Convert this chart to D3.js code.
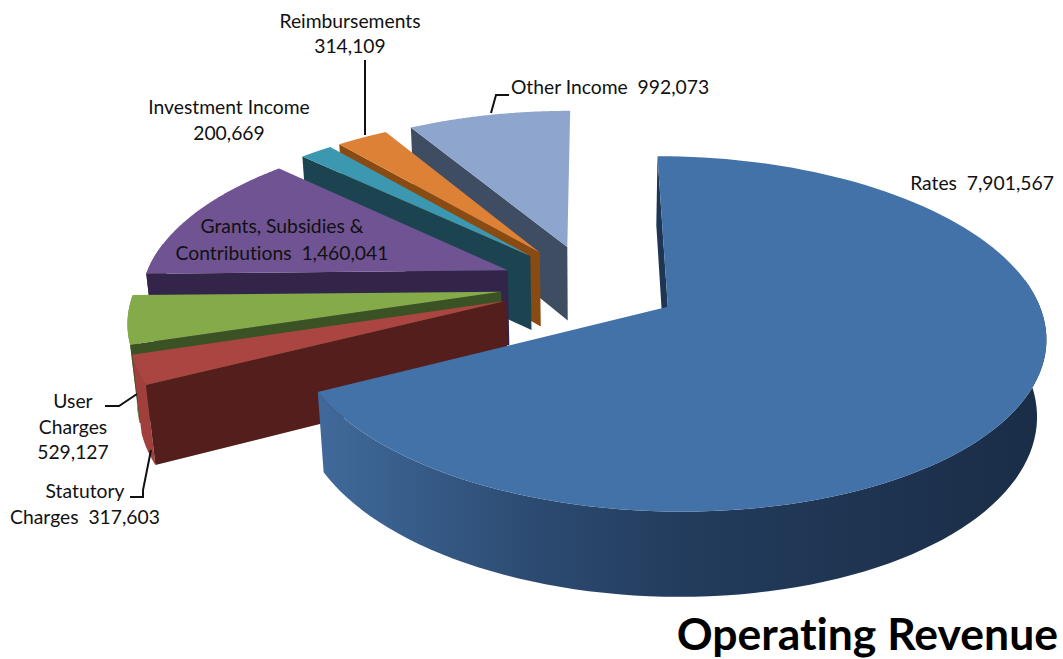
<!DOCTYPE html>
<html>
<head>
<meta charset="utf-8">
<title>Operating Revenue</title>
<script src="https://cdn.jsdelivr.net/npm/d3@7"></script>
<style>
  html, body { margin: 0; padding: 0; background: #fff; }
  svg { display: block; }
  text { font-family: Lato, "Open Sans", sans-serif; fill: #111; font-variant-ligatures: none; }
</style>
</head>
<body>
<svg id="chart" width="1063" height="659"></svg>
<script>
// Operating revenue by source
const categories = ["Rates", "Statutory Charges", "User Charges", "Grants, Subsidies & Contributions", "Investment Income", "Reimbursements", "Other Income"];
const revenue = [7901567, 317603, 529127, 1460041, 200669, 314109, 992073];
const topColours = ["#4372a8", "#aa4541", "#85aa4a", "#6f5392", "#3b98b0", "#dd8136", "#8ea5cd"];
const wallColours = ["#1e3554", "#541e1c", "#3a5224", "#33254a", "#1c4450", "#8a4b12", "#3f4d62"];
const rimColours = ["url(#ratesRim)", "#a13f3c", "#6e8f3d", "#33254a", "#2a7488", "#b56a2a", "#76899f"];

// Callout text, one entry per line
const labelLines = [
  [{ t: "Rates  7,901,567", x: 982, y: 190 }],
  [{ t: "Statutory", x: 85, y: 498 }, { t: "Charges  317,603", x: 85, y: 524 }],
  [{ t: "User", x: 73, y: 408 }, { t: "Charges", x: 73, y: 434 }, { t: "529,127", x: 73, y: 459 }],
  [{ t: "Grants, Subsidies &", x: 282, y: 233 }, { t: "Contributions  1,460,041", x: 282, y: 260 }],
  [{ t: "Investment Income", x: 229, y: 114 }, { t: "200,669", x: 229, y: 140 }],
  [{ t: "Reimbursements", x: 350, y: 28 }, { t: "314,109", x: 350, y: 53 }],
  [{ t: "Other Income  992,073", x: 610, y: 94 }]
];
// Leader lines running from callouts to their slices
const leaders = [
  [[130, 497], [143, 497], [143, 490], [151, 450]],
  [[105, 406], [119, 406], [137, 394]],
  [[365, 60], [365, 135]],
  [[509, 95], [496, 95], [491, 113]]
];

const svg = d3.select("#chart");

// Perspective projection of the pie's ground plane.
// u runs right, v towards the viewer, w down through the thickness of the disc.
const view = { cx: 590, cy: 285, R: 365, Ry: 167, H: 77, k: 0.15, m: 0.02, explode: 0.245 };
function project(u, v, w) {
  const s = 1 / (1 - view.k * v + view.m * w);
  return [view.cx + view.R * u * s, view.cy + view.Ry * v * s + view.H * w * s];
}

const pie = d3.pie().sort(null).value(d => d);
const arcs = pie(revenue);

// A polar location on a slice: the apex is pushed out along the slice's bisector.
function apexOf(a) {
  const mid = (a.startAngle + a.endAngle) / 2;
  return [view.explode * Math.sin(mid), -view.explode * Math.cos(mid)];
}
function rimPoint(a, t, w) {
  const o = apexOf(a);
  return project(o[0] + Math.sin(t), o[1] - Math.cos(t), w);
}
const line = d3.line();

function rimAngles(a) {
  return d3.range(0, 1.0001, 1 / 120).map(f => a.startAngle + f * (a.endAngle - a.startAngle));
}
// The rim only shows on the half of the disc that faces the viewer.
const facesViewer = t => Math.cos(t) < 0.17;

const defs = svg.append("defs");
const grad = defs.append("linearGradient").attr("id", "ratesRim")
  .attr("gradientUnits", "userSpaceOnUse")
  .attr("x1", 322).attr("x2", 1046).attr("y1", 0).attr("y2", 0);
[[0, "#40699a"], [0.12, "#375d8a"], [0.3, "#2c4a70"], [0.5, "#233c5d"], [0.75, "#1e3451"], [1, "#1a2d47"]]
  .forEach(s => grad.append("stop").attr("offset", s[0]).attr("stop-color", s[1]));

// Paint back to front: the far slices first, the large front slice last.
const paintOrder = [6, 5, 4, 3, 2, 1, 0];
const slices = svg.append("g").selectAll("g")
  .data(paintOrder.map(i => ({ i, a: arcs[i] })))
  .join("g");

slices.each(function (d) {
  const g = d3.select(this);
  const o = apexOf(d.a);
  const ts = rimAngles(d.a);
  const front = ts.filter(facesViewer);
  // outer rim, then the radial wall at the slice's leading edge
  if (front.length) {
    const rim = front.map(t => rimPoint(d.a, t, 0)).concat(front.slice().reverse().map(t => rimPoint(d.a, t, 1)));
    g.append("path").attr("d", line(rim) + "Z").attr("fill", rimColours[d.i]);
  }
  const wall = [project(o[0], o[1], 0), rimPoint(d.a, d.a.startAngle, 0), rimPoint(d.a, d.a.startAngle, 1), project(o[0], o[1], 1)];
  g.append("path").attr("d", line(wall) + "Z").attr("fill", wallColours[d.i]);
  // top face
  const top = [project(o[0], o[1], 0)].concat(ts.map(t => rimPoint(d.a, t, 0)));
  g.append("path").attr("d", line(top) + "Z").attr("fill", topColours[d.i]);
});

// Leaders
svg.append("g").selectAll("path").data(leaders).join("path")
  .attr("d", d => line(d))
  .attr("fill", "none").attr("stroke", "#111").attr("stroke-width", 2);

// Callouts
svg.append("g").selectAll("text").data(labelLines.flat()).join("text")
  .attr("x", d => d.x).attr("y", d => d.y)
  .attr("text-anchor", "middle")
  .attr("font-size", 19.3)
  .attr("xml:space", "preserve")
  .style("white-space", "pre")
  .text(d => d.t);

// Title
svg.append("text").attr("x", 1058).attr("y", 650).attr("text-anchor", "end")
  .attr("font-size", 44.5).attr("font-weight", 700).style("fill", "#000")
  .text("Operating Revenue");
</script>
</body>
</html>
